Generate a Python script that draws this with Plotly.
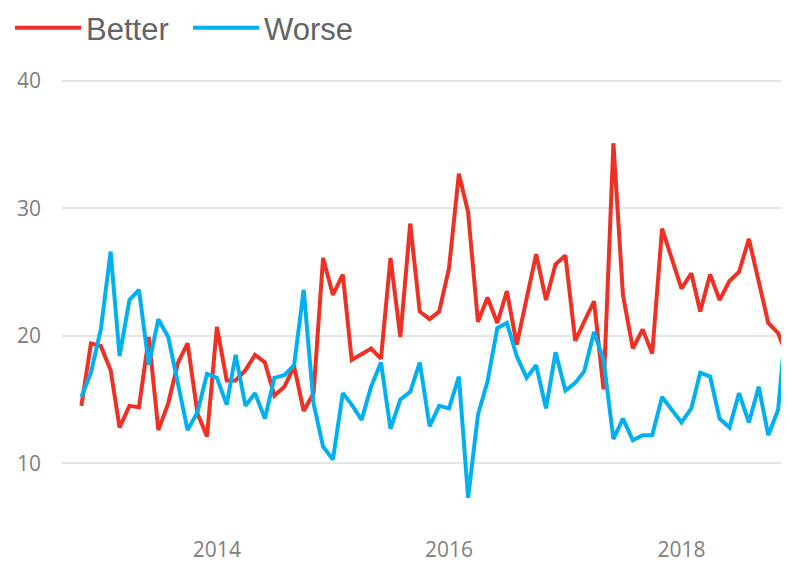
import pandas as pd
import plotly.graph_objects as go

# Monthly series, Nov 2012 – Dec 2018
months = pd.date_range("2012-11-01", "2018-12-01", freq="MS")

better = [
    14.5, 19.4, 19.2, 17.3, 12.8, 14.5, 14.4, 19.9, 12.6, 14.7, 17.9, 19.4,
    13.9, 12.1, 20.7, 16.5, 16.5, 17.3, 18.5, 17.9, 15.3, 16.0, 17.6, 14.1,
    15.5, 26.1, 23.2, 24.8, 18.1, 18.6, 19.0, 18.2, 26.1, 19.9, 28.8, 21.9,
    21.3, 21.9, 25.3, 32.7, 29.7, 21.1, 23.0, 21.0, 23.5, 19.3, 22.8, 26.4,
    22.8, 25.6, 26.3, 19.6, 21.1, 22.7, 15.8, 35.1, 23.2, 19.0, 20.5, 18.6,
    28.4, 26.2, 23.7, 24.9, 21.9, 24.8, 22.8, 24.3, 25.0, 27.6, 24.3, 21.0,
    20.2, 18.3,
]

worse = [
    15.2, 17.1, 20.5, 26.6, 18.4, 22.8, 23.6, 17.7, 21.3, 19.9, 16.2, 12.6,
    14.0, 17.0, 16.7, 14.6, 18.5, 14.5, 15.5, 13.5, 16.7, 16.9, 17.7, 23.6,
    14.7, 11.3, 10.3, 15.5, 14.6, 13.4, 16.0, 17.9, 12.7, 15.0, 15.6, 17.9,
    12.9, 14.5, 14.3, 16.8, 7.3, 13.8, 16.4, 20.6, 21.0, 18.4, 16.7, 17.7,
    14.3, 18.7, 15.7, 16.3, 17.2, 20.3, 18.1, 11.9, 13.5, 11.8, 12.2, 12.2,
    15.2, 14.2, 13.2, 14.3, 17.1, 16.8, 13.5, 12.8, 15.5, 13.2, 16.0, 12.2,
    14.2, 22.5,
]

year_ticks = ["2014-01-01", "2016-01-01", "2018-01-01"]
year_labels = ["2014", "2016", "2018"]
y_ticks = [10, 20, 30, 40]

RED = "#EE3124"
BLUE = "#00B0F0"

fig = go.Figure()
fig.add_trace(go.Scatter(x=months, y=better, name="Better", mode="lines",
                         line=dict(color=RED, width=4)))
fig.add_trace(go.Scatter(x=months, y=worse, name="Worse", mode="lines",
                         line=dict(color=BLUE, width=4)))

tick_font = dict(family="Open Sans, Noto Sans, sans-serif", size=21, color="#808080")

fig.update_layout(
    width=790, height=567,
    margin=dict(l=62, r=9, t=68, b=40, autoexpand=False),
    paper_bgcolor="white", plot_bgcolor="white",
    showlegend=True,
    legend=dict(
        orientation="h",
        xref="container", yref="container",
        x=10 / 790, y=1 - 1 / 567,
        xanchor="left", yanchor="top",
        itemwidth=66,
        entrywidth=97,
        font=dict(family="Liberation Sans, Arial, sans-serif", size=31, color="#646464"),
        bgcolor="rgba(0,0,0,0)",
    ),
    xaxis=dict(
        range=["2012-09-01", "2018-11-10"],
        tickmode="array", tickvals=year_ticks, ticktext=year_labels,
        showgrid=False, zeroline=False, showline=False, ticks="",
        tickfont=tick_font, ticklabelstandoff=8,
    ),
    yaxis=dict(
        range=[5, 41],
        tickmode="array", tickvals=y_ticks,
        showgrid=True, gridcolor="#E6E6E6", gridwidth=2,
        zeroline=False, showline=False, ticks="",
        tickfont=tick_font, ticklabelstandoff=20,
    ),
)

fig.write_html("out.html")
